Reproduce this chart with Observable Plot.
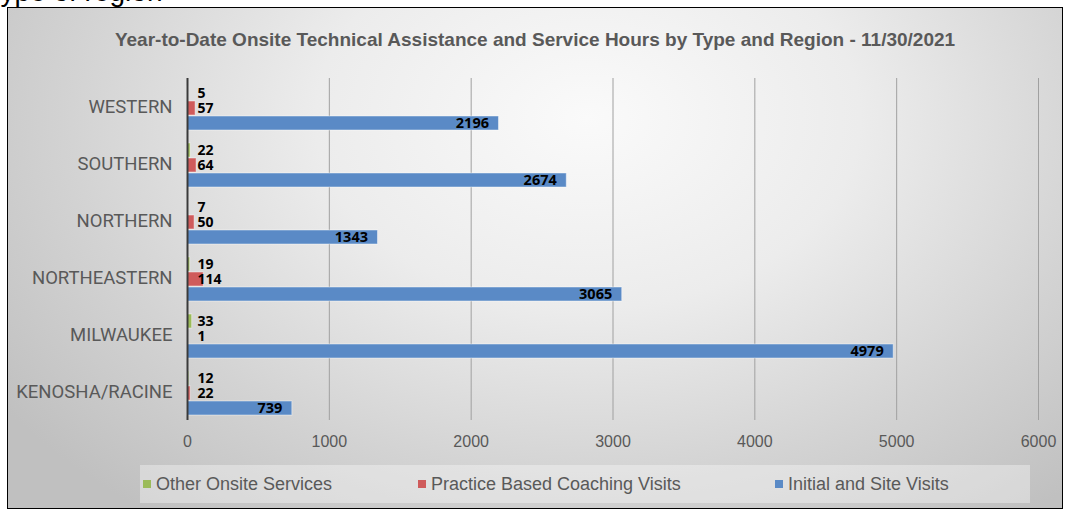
<!DOCTYPE html>
<html><head><meta charset="utf-8">
<script src="https://cdn.jsdelivr.net/npm/d3@7"></script>
<script src="https://cdn.jsdelivr.net/npm/@observablehq/plot@0.6"></script>
<style>
body{margin:0;width:1066px;height:510px;overflow:hidden;background:#fff;position:relative;font-family:"Liberation Sans",Arial,sans-serif}
#cut{position:absolute;left:-15px;top:-22px;font-size:28px;line-height:28px;color:#000;white-space:nowrap}
#box{position:absolute;left:7px;top:7px;width:1056px;height:502px;box-sizing:border-box;border:1px solid #000;overflow:hidden;
 background:radial-gradient(ellipse 68% 100% at 55% 22%, #fafafa 0%, #ececec 38%, #d3d3d3 72%, #c0c0c0 100%)}
#title{position:absolute;left:0;right:0;top:21px;text-align:center;font-weight:bold;font-size:19px;line-height:22px;color:#595959;font-family:"Liberation Sans",Arial,sans-serif}
#chart{position:absolute;left:0;top:0}
#legend{position:absolute;left:132px;top:457px;width:890px;height:38px;background:rgba(255,255,255,0.35)}
.item{position:absolute;top:0;height:38px;display:flex;align-items:center;font-family:"Liberation Sans",Arial,sans-serif;font-size:18px;color:#595959;white-space:nowrap}
.sw{width:8px;height:8px;margin-right:5px}
#chart svg [aria-label="x-axis tick label"] text{font-family:"Liberation Sans",Arial,sans-serif;font-size:16px;fill:#595959}
#chart svg [aria-label="fy-axis tick label"] text{font-family:Roboto,sans-serif;font-size:18.5px;fill:#595959}
</style>
</head><body>
<div id="cut">Type of region</div>
<div id="box">
  <div id="chart"></div>
  <div id="title">Year-to-Date Onsite Technical Assistance and Service Hours by Type and Region - 11/30/2021</div>
  <div id="legend"></div>
</div>
<script>
const regions = ["WESTERN","SOUTHERN","NORTHERN","NORTHEASTERN","MILWAUKEE","KENOSHA/RACINE"];
const types = ["Other Onsite Services","Practice Based Coaching Visits","Initial and Site Visits"];
const colors = ["#9bbb59","#cf5b5b","#5a8ac6"];
const otherOnsite = [5,22,7,19,33,12];
const coachingVisits = [57,64,50,114,1,22];
const initialVisits = [2196,2674,1343,3065,4979,739];
const xTicks = [0,1000,2000,3000,4000,5000,6000];

const series = [otherOnsite, coachingVisits, initialVisits];
const data = [];
regions.forEach((r,i)=>{
  types.forEach((t,j)=>data.push({region:r,type:t,value:series[j][i]}));
});
const small = data.filter(d=>d.type!==types[2]);
const big = data.filter(d=>d.type===types[2]);

const chart = Plot.plot({
  width:1054, height:450,
  marginLeft:179, marginRight:24, marginTop:67, marginBottom:36,
  style:{background:"transparent", overflow:"visible"},
  x:{domain:[0,6000], ticks:xTicks, tickSize:0, tickPadding:15, label:null, tickFormat:d=>String(d)},
  fy:{domain:regions, padding:0, label:null, axis:"left", tickSize:0, tickPadding:15},
  y:{domain:types, axis:null, paddingInner:0.06, paddingOuter:0.34, align:0.62},
  color:{domain:types, range:colors},
  marks:[
    Plot.gridX(xTicks.slice(1), {stroke:"#a0a0a0", strokeOpacity:1, strokeWidth:1}),
    Plot.barX(data, {fy:"region", y:"type", x:"value", fill:"type", stroke:"#ffffff", strokeOpacity:0.45, strokeWidth:1}),
    Plot.ruleX([0], {stroke:"#3a3a3a", strokeWidth:2}),
    Plot.text(small, {fy:"region", y:"type", x:0, dx:10, text:d=>String(d.value), textAnchor:"start",
      fontWeight:"bold", fontSize:14, fontFamily:"Open Sans", fill:"#000"}),
    Plot.text(big, {fy:"region", y:"type", x:"value", dx:-10, text:d=>String(d.value), textAnchor:"end",
      fontWeight:"bold", fontSize:14.5, fontFamily:"Open Sans", fill:"#000"})
  ]
});
document.getElementById("chart").appendChild(chart);

const legend = document.getElementById("legend");
const lx = [3, 278, 635];
types.forEach((t,i)=>{
  const it = document.createElement("div");
  it.className = "item";
  it.style.left = lx[i]+"px";
  const sw = document.createElement("span");
  sw.className = "sw"; sw.style.background = colors[i];
  it.appendChild(sw);
  it.appendChild(document.createTextNode(t));
  legend.appendChild(it);
});
</script>
</body></html>
